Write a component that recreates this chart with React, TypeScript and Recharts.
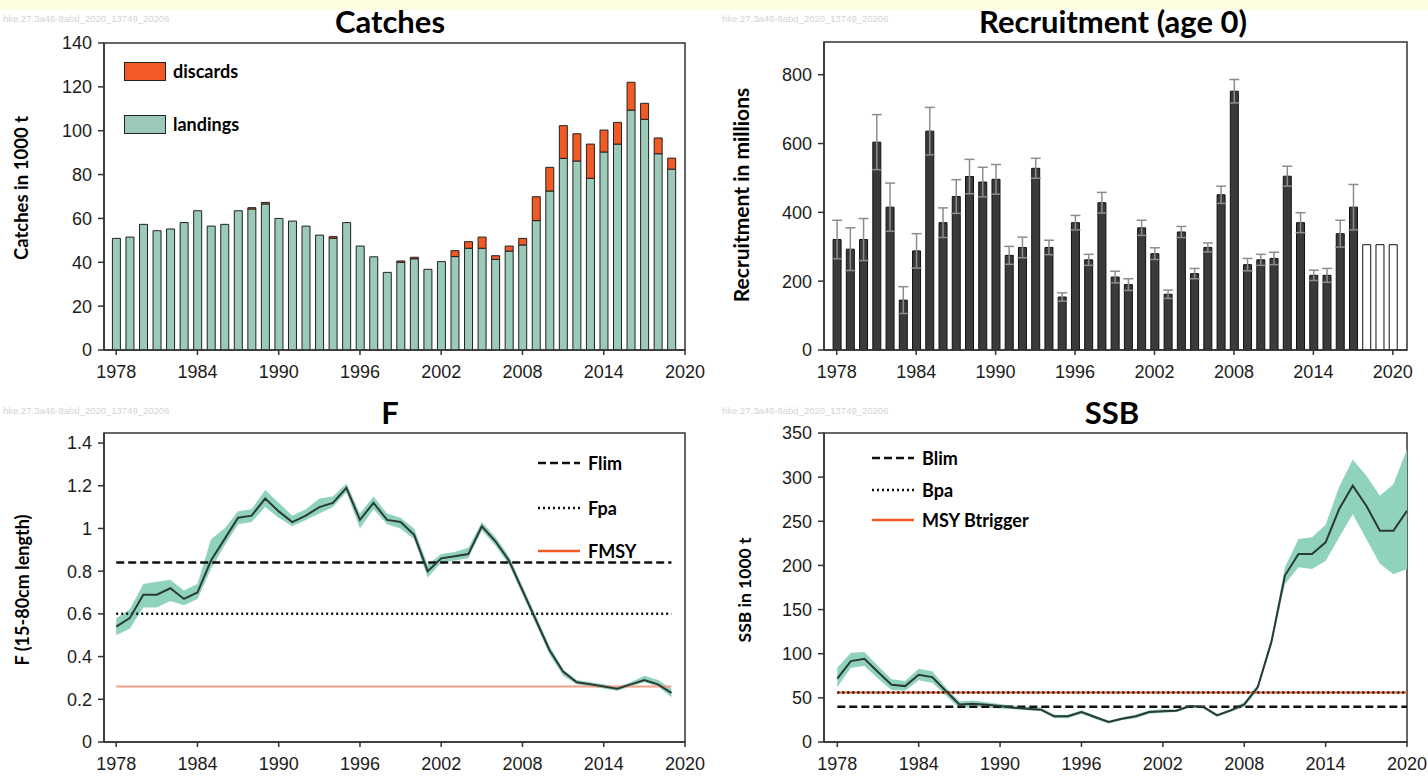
import React from "react";
import {
  ComposedChart,
  Bar,
  XAxis,
  YAxis,
  Line,
  Area,
  ReferenceArea,
  ErrorBar,
  Cell,
} from "recharts";

// ---------------- DATA ----------------
const catchYears = [
  1978, 1979, 1980, 1981, 1982, 1983, 1984, 1985, 1986, 1987,
  1988, 1989, 1990, 1991, 1992, 1993, 1994, 1995, 1996, 1997,
  1998, 1999, 2000, 2001, 2002, 2003, 2004, 2005, 2006, 2007,
  2008, 2009, 2010, 2011, 2012, 2013, 2014, 2015, 2016, 2017,
  2018, 2019,
];
const landings = [
  50.9, 51.5, 57.3, 54.4, 55.2, 58.1, 63.5, 56.5, 57.3, 63.5,
  64.3, 66.6, 60.0, 58.8, 56.5, 52.4, 51.0, 58.1, 47.4, 42.5,
  35.4, 40.0, 41.6, 36.8, 40.3, 42.6, 46.4, 46.4, 41.3, 45.1,
  47.9, 59.0, 72.5, 87.4, 86.2, 78.3, 90.3, 93.9, 109.4, 105.2,
  89.5, 82.5,
];
const discards = [
  0, 0, 0, 0, 0, 0, 0, 0, 0, 0,
  0.6, 0.7, 0, 0, 0, 0, 0.7, 0, 0, 0,
  0, 0.6, 0.7, 0, 0, 2.7, 3.0, 5.1, 1.7, 2.3,
  3.0, 10.9, 10.8, 14.9, 12.4, 15.6, 10.0, 9.9, 12.7, 7.3,
  7.2, 5.0,
];

const recYears = [
  1978, 1979, 1980, 1981, 1982, 1983, 1984, 1985, 1986, 1987,
  1988, 1989, 1990, 1991, 1992, 1993, 1994, 1995, 1996, 1997,
  1998, 1999, 2000, 2001, 2002, 2003, 2004, 2005, 2006, 2007,
  2008, 2009, 2010, 2011, 2012, 2013, 2014, 2015, 2016, 2017,
  2018, 2019, 2020,
];
const recruitment = [
  321, 293, 321, 604, 415, 145, 288, 636, 370, 446,
  504, 488, 496, 275, 298, 528, 298, 154, 370, 262,
  428, 212, 190, 355, 280, 162, 343, 222, 298, 451,
  752, 248, 262, 266, 505, 370, 217, 217, 338, 415,
  306, 306, 306,
];
const recruitmentErr = [
  56, 62, 61, 80, 70, 39, 50, 69, 43, 49,
  50, 43, 43, 26, 30, 29, 21, 12, 21, 16,
  30, 17, 17, 22, 17, 12, 16, 15, 13, 25,
  34, 18, 16, 18, 29, 29, 15, 20, 39, 66,
  null, null, null,
];
const recProjected = [
  false, false, false, false, false, false, false, false, false, false,
  false, false, false, false, false, false, false, false, false, false,
  false, false, false, false, false, false, false, false, false, false,
  false, false, false, false, false, false, false, false, false, false,
  true, true, true,
];

const fYears = [
  1978, 1979, 1980, 1981, 1982, 1983, 1984, 1985, 1986, 1987,
  1988, 1989, 1990, 1991, 1992, 1993, 1994, 1995, 1996, 1997,
  1998, 1999, 2000, 2001, 2002, 2003, 2004, 2005, 2006, 2007,
  2008, 2009, 2010, 2011, 2012, 2013, 2014, 2015, 2016, 2017,
  2018, 2019,
];
const fValues = [
  0.54, 0.58, 0.69, 0.69, 0.72, 0.67, 0.70, 0.85, 0.95, 1.05,
  1.06, 1.14, 1.08, 1.03, 1.06, 1.10, 1.12, 1.19, 1.04, 1.12,
  1.04, 1.03, 0.97, 0.80, 0.86, 0.87, 0.88, 1.01, 0.94, 0.85,
  0.71, 0.57, 0.43, 0.33, 0.28, 0.27, 0.26, 0.25, 0.27, 0.29,
  0.27, 0.23,
];
const fLow = [
  0.50, 0.53, 0.63, 0.63, 0.66, 0.64, 0.67, 0.81, 0.92, 1.02,
  1.03, 1.10, 1.05, 1.01, 1.04, 1.07, 1.10, 1.17, 1.00, 1.09,
  1.02, 1.00, 0.95, 0.77, 0.84, 0.85, 0.86, 0.99, 0.92, 0.83,
  0.69, 0.55, 0.41, 0.31, 0.27, 0.26, 0.25, 0.24, 0.26, 0.28,
  0.26, 0.21,
];
const fHigh = [
  0.58, 0.62, 0.74, 0.75, 0.76, 0.71, 0.74, 0.95, 1.00, 1.08,
  1.09, 1.18, 1.12, 1.06, 1.09, 1.14, 1.15, 1.21, 1.07, 1.15,
  1.07, 1.05, 1.00, 0.83, 0.88, 0.89, 0.91, 1.03, 0.96, 0.87,
  0.73, 0.59, 0.45, 0.34, 0.29, 0.28, 0.27, 0.26, 0.28, 0.31,
  0.29, 0.25,
];
const F_LIM = 0.84;
const F_PA = 0.6;
const F_MSY = 0.26;

const ssbYears = [
  1978, 1979, 1980, 1981, 1982, 1983, 1984, 1985, 1986, 1987,
  1988, 1989, 1990, 1991, 1992, 1993, 1994, 1995, 1996, 1997,
  1998, 1999, 2000, 2001, 2002, 2003, 2004, 2005, 2006, 2007,
  2008, 2009, 2010, 2011, 2012, 2013, 2014, 2015, 2016, 2017,
  2018, 2019, 2020,
];
const ssbValues = [
  71.7, 91.6, 94.3, 79.2, 64.9, 63.3, 76.2, 73.5, 57.7, 42.6,
  43.4, 42.3, 40.7, 38.9, 37.7, 36.6, 29.1, 29.1, 33.9, 28.3,
  22.6, 26.4, 29.1, 33.9, 34.7, 35.5, 40.7, 39.6, 30.2, 35.8,
  42.6, 62.2, 113.1, 188.5, 213, 213, 226.2, 263.9, 290.3, 267.7,
  239.4, 239.4, 262,
];
const ssbLow = [
  62, 84, 86, 72, 59, 58, 70, 67, 53, 38,
  40, 39, 38, 37, 36, 35, 27, 27, 32, 26,
  21, 25, 27, 32, 33, 34, 39, 38, 29, 34,
  40, 59, 109, 179, 198, 196, 205, 232, 258, 230,
  202, 190, 196,
];
const ssbHigh = [
  84, 101, 102, 86, 71, 69, 83, 80, 62, 46,
  47, 45, 43, 41, 40, 39, 31, 31, 36, 30,
  24, 28, 31, 36, 37, 37, 42, 41, 32, 37,
  45, 65, 117, 198, 230, 232, 246, 289, 320, 302,
  279, 292, 332,
];
const B_LIM = 40;
const B_PA = 56;
const MSY_BTRIGGER = 56;

const yearTicks = [1978, 1984, 1990, 1996, 2002, 2008, 2014, 2020];
const catchTicks = [0, 20, 40, 60, 80, 100, 120, 140];
const recTicks = [0, 200, 400, 600, 800];
const fTicks = [0, 0.2, 0.4, 0.6, 0.8, 1, 1.2, 1.4];
const ssbTicks = [0, 50, 100, 150, 200, 250, 300, 350];

const WATERMARK = "hke.27.3a46-8abd_2020_13749_20206";

// ---------------- TABLES ----------------
const catchRows = catchYears.map((year, i) => ({
  year,
  landings: landings[i],
  discards: discards[i],
}));
const recRows = recYears.map((year, i) => ({
  year,
  rec: recruitment[i],
  err: recruitmentErr[i],
  proj: recProjected[i],
}));
const fRows = fYears.map((year, i) => ({
  year,
  f: fValues[i],
  band: [fLow[i], fHigh[i]],
  flim: F_LIM,
  fpa: F_PA,
  fmsy: F_MSY,
}));
const ssbRows = ssbYears.map((year, i) => ({
  year,
  ssb: ssbValues[i],
  band: [ssbLow[i], ssbHigh[i]],
  blim: B_LIM,
  bpa: B_PA,
  trig: MSY_BTRIGGER,
}));

// ---------------- STYLES ----------------
const AX = { stroke: "#333", strokeWidth: 1.5 };
const TICK = {
  fill: "#1c1c1c",
  fontSize: 18,
  fontFamily: '"Liberation Sans", Arial, sans-serif',
};
const BOLD = 'Lato, "Open Sans", sans-serif';
const BAND = "#90d3bc";
const LINE = "#2b3a35";
const ORANGE = "#f15a24";

const abs = (left: number, top: number): React.CSSProperties => ({
  position: "absolute",
  left,
  top,
});

function Title({ text, cx, cy }: { text: string; cx: number; cy: number }) {
  return (
    <div
      style={{
        ...abs(cx, cy),
        transform: "translate(-50%, -50%)",
        fontFamily: BOLD,
        fontWeight: 700,
        fontSize: 31,
        lineHeight: "36px",
        color: "#000",
        whiteSpace: "nowrap",
      }}
    >
      {text}
    </div>
  );
}

function VLabel({ text, cx, cy, size }: { text: string; cx: number; cy: number; size: number }) {
  return (
    <div
      style={{
        ...abs(cx, cy),
        transform: "translate(-50%, -50%) rotate(-90deg)",
        fontFamily: BOLD,
        fontWeight: 700,
        fontSize: size,
        lineHeight: "22px",
        color: "#000",
        whiteSpace: "nowrap",
      }}
    >
      {text}
    </div>
  );
}

function Watermark({ x, y }: { x: number; y: number }) {
  return (
    <div
      style={{
        ...abs(x, y),
        fontFamily: '"Liberation Sans", Arial, sans-serif',
        fontSize: 9.5,
        color: "#d4d4d4",
        whiteSpace: "nowrap",
      }}
    >
      {WATERMARK}
    </div>
  );
}

const keyText: React.CSSProperties = {
  marginLeft: 7,
  fontFamily: BOLD,
  fontWeight: 700,
  fontSize: 18,
  color: "#000",
  whiteSpace: "nowrap",
};

function LineKey({
  x,
  y,
  text,
  stroke,
  dash,
  width,
}: {
  x: number;
  y: number;
  text: string;
  stroke: string;
  dash?: string;
  width: number;
}) {
  return (
    <div style={{ ...abs(x, y - 12), display: "flex", alignItems: "center", height: 24 }}>
      <svg width={44} height={10} style={{ display: "block" }}>
        <line x1={1} y1={5} x2={43} y2={5} stroke={stroke} strokeWidth={width} strokeDasharray={dash} />
      </svg>
      <span style={keyText}>{text}</span>
    </div>
  );
}

function BoxKey({ x, y, text, fill }: { x: number; y: number; text: string; fill: string }) {
  return (
    <div style={{ ...abs(x, y - 12), display: "flex", alignItems: "center", height: 24 }}>
      <div style={{ width: 40, height: 17, background: fill, border: "1.5px solid #222" }} />
      <span style={keyText}>{text}</span>
    </div>
  );
}

const xAxisCommon = {
  dataKey: "year",
  type: "number" as const,
  ticks: yearTicks,
  allowDataOverflow: true,
  interval: 0,
  height: 30,
  tickSize: 5,
  tickMargin: 10,
  axisLine: AX,
  tickLine: AX,
  tick: TICK,
};
const yAxisCommon = {
  type: "number" as const,
  allowDataOverflow: true,
  interval: 0,
  width: 50,
  tickSize: 6,
  tickMargin: 6,
  axisLine: AX,
  tickLine: AX,
  tick: TICK,
};

// ---------------- CHARTS ----------------
function CatchesChart() {
  const xd: [number, number] = [1977.1, 2020];
  return (
    <ComposedChart width={714} height={390} data={catchRows} margin={{ top: 43, right: 29, bottom: 10, left: 54 }}>
      <XAxis {...xAxisCommon} domain={xd} />
      <YAxis {...yAxisCommon} domain={[0, 140]} ticks={catchTicks} />
      <ReferenceArea x1={xd[0]} x2={xd[1]} y1={0} y2={140} fill="none" stroke="#333" strokeWidth={1.5} />
      <Bar dataKey="landings" stackId="c" fill="#9ccab9" stroke="#222" strokeWidth={1} barSize={8} isAnimationActive={false} />
      <Bar dataKey="discards" stackId="c" fill={ORANGE} stroke="#222" strokeWidth={1} barSize={8} isAnimationActive={false} />
    </ComposedChart>
  );
}

function RecruitmentChart() {
  const xd: [number, number] = [1977.04, 2021.07];
  return (
    <ComposedChart width={714} height={390} data={recRows} margin={{ top: 42, right: 21, bottom: 10, left: 60 }}>
      <XAxis {...xAxisCommon} domain={xd} />
      <YAxis {...yAxisCommon} domain={[0, 895]} ticks={recTicks} />
      <ReferenceArea x1={xd[0]} x2={xd[1]} y1={0} y2={895} fill="none" stroke="#333" strokeWidth={1.5} />
      <Bar dataKey="rec" barSize={8} stroke="#111" strokeWidth={1} isAnimationActive={false}>
        {recRows.map((r) => (
          <Cell key={r.year} fill={r.proj ? "#ffffff" : "#3a3a3a"} />
        ))}
        <ErrorBar dataKey="err" width={5} stroke="#8d8d8d" strokeWidth={1.5} direction="y" />
      </Bar>
    </ComposedChart>
  );
}

function FChart() {
  const xd: [number, number] = [1977.1, 2020];
  return (
    <ComposedChart width={714} height={387} data={fRows} margin={{ top: 43, right: 29, bottom: 5, left: 54 }}>
      <XAxis {...xAxisCommon} domain={xd} />
      <YAxis
        {...yAxisCommon}
        domain={[0, 1.447]}
        ticks={fTicks}
        tickFormatter={(v: number) => String(Math.round(v * 10) / 10)}
      />
      <ReferenceArea x1={xd[0]} x2={xd[1]} y1={0} y2={1.447} fill="none" stroke="#333" strokeWidth={1.5} />
      <Area dataKey="band" type="linear" fill={BAND} fillOpacity={1} stroke="none" isAnimationActive={false} />
      <Line dataKey="fmsy" type="linear" stroke="#f6a088" strokeWidth={2} dot={false} isAnimationActive={false} />
      <Line dataKey="flim" type="linear" stroke="#111" strokeWidth={2.5} strokeDasharray="8 4" dot={false} isAnimationActive={false} />
      <Line dataKey="fpa" type="linear" stroke="#111" strokeWidth={2.5} strokeDasharray="2 3" dot={false} isAnimationActive={false} />
      <Line dataKey="f" type="linear" stroke={LINE} strokeWidth={2} dot={false} isAnimationActive={false} />
    </ComposedChart>
  );
}

function SSBChart() {
  const xd: [number, number] = [1977.02, 2020];
  return (
    <ComposedChart width={714} height={387} data={ssbRows} margin={{ top: 43, right: 21, bottom: 5, left: 60 }}>
      <XAxis {...xAxisCommon} domain={xd} />
      <YAxis {...yAxisCommon} domain={[0, 350]} ticks={ssbTicks} />
      <ReferenceArea x1={xd[0]} x2={xd[1]} y1={0} y2={350} fill="none" stroke="#333" strokeWidth={1.5} />
      <Area dataKey="band" type="linear" fill={BAND} fillOpacity={1} stroke="none" isAnimationActive={false} />
      <Line dataKey="trig" type="linear" stroke={ORANGE} strokeWidth={2} dot={false} isAnimationActive={false} />
      <Line dataKey="bpa" type="linear" stroke="#111" strokeWidth={2.5} strokeDasharray="2 3" dot={false} isAnimationActive={false} />
      <Line dataKey="blim" type="linear" stroke="#111" strokeWidth={2.5} strokeDasharray="8 4" dot={false} isAnimationActive={false} />
      <Line dataKey="ssb" type="linear" stroke={LINE} strokeWidth={2} dot={false} isAnimationActive={false} />
    </ComposedChart>
  );
}

export default function App() {
  return (
    <div
      style={{
        position: "fixed",
        left: 0,
        top: 0,
        width: 1428,
        height: 777,
        background: "#ffffff",
        overflow: "hidden",
      }}
    >
      <div style={{ ...abs(0, 0), width: 1428, height: 10, background: "#fffde1" }} />

      <div style={abs(0, 0)}>
        <CatchesChart />
      </div>
      <div style={abs(714, 0)}>
        <RecruitmentChart />
      </div>
      <div style={abs(0, 390)}>
        <FChart />
      </div>
      <div style={abs(714, 390)}>
        <SSBChart />
      </div>

      <Watermark x={3} y={13} />
      <Watermark x={722} y={13} />
      <Watermark x={3} y={405} />
      <Watermark x={722} y={405} />

      <Title text="Catches" cx={390} cy={21} />
      <Title text="Recruitment (age 0)" cx={1113} cy={21} />
      <Title text="F" cx={390} cy={412} />
      <Title text="SSB" cx={1112} cy={412} />

      <VLabel text="Catches in 1000 t" cx={21} cy={188} size={18.5} />
      <VLabel text="Recruitment in millions" cx={741} cy={195} size={21} />
      <VLabel text="F (15-80cm length)" cx={22} cy={590} size={18} />
      <VLabel text="SSB in 1000 t" cx={745} cy={590} size={17.5} />

      <BoxKey x={124} y={71} text="discards" fill={ORANGE} />
      <BoxKey x={124} y={124} text="landings" fill="#9ccab9" />

      <LineKey x={537} y={463} text="Flim" stroke="#111" dash="8 4" width={2.5} />
      <LineKey x={537} y={508} text="Fpa" stroke="#111" dash="2 3" width={2.5} />
      <LineKey x={537} y={551} text="FMSY" stroke={ORANGE} width={2.5} />

      <LineKey x={871} y={458} text="Blim" stroke="#111" dash="8 4" width={2.5} />
      <LineKey x={871} y={490} text="Bpa" stroke="#111" dash="2 3" width={2.5} />
      <LineKey x={871} y={520} text="MSY Btrigger" stroke={ORANGE} width={2.5} />
    </div>
  );
}
